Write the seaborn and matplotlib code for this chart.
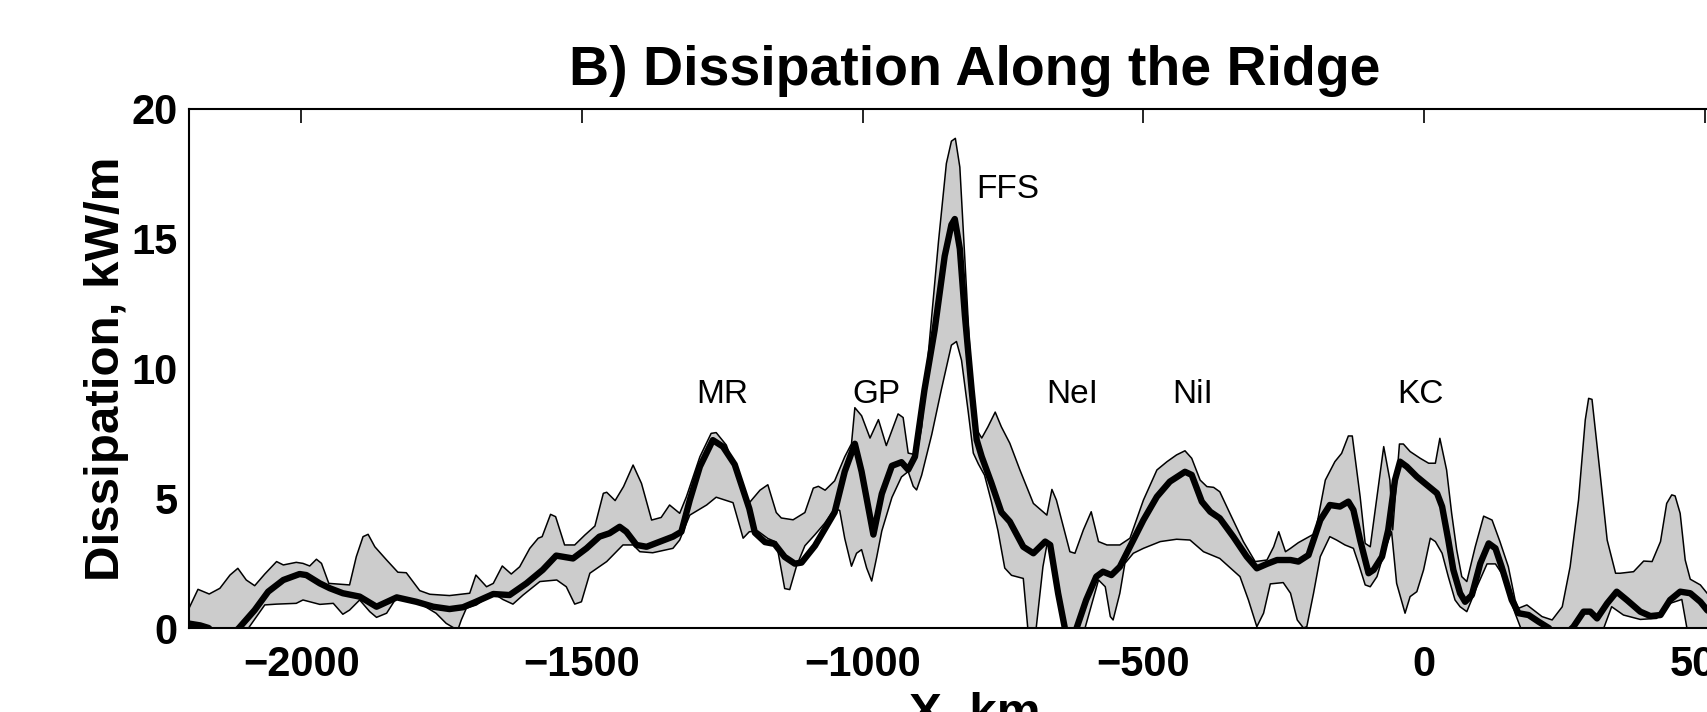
import numpy as np
import matplotlib
matplotlib.use("Agg")
import matplotlib.pyplot as plt
import seaborn as sns

# upper edge of the shaded band (x in km, dissipation in kW/m)
upper_x = [-2200, -2184, -2164, -2145, -2127, -2113, -2098, -2083, -2065, -2044,
           -2032, -2009, -1997, -1985, -1973, -1964, -1951, -1914, -1902, -1890,
           -1881, -1869, -1848, -1828, -1813, -1789, -1771, -1736, -1712, -1700,
           -1689, -1670, -1658, -1642, -1626, -1611, -1593, -1578, -1571, -1556,
           -1547, -1531, -1513, -1495, -1477, -1462, -1456, -1441, -1426, -1409,
           -1394, -1376, -1359, -1344, -1326, -1314, -1290, -1270, -1261, -1243,
           -1220, -1203, -1183, -1169, -1154, -1145, -1124, -1103, -1088, -1079,
           -1067, -1050, -1032, -1020, -1014, -1002, -987, -972, -958, -937,
           -928, -919, -904, -895, -877, -865, -851, -842, -835, -827,
           -818, -809, -800, -788, -777, -764, -753, -738, -720, -696,
           -672, -663, -655, -631, -622, -607, -593, -580, -565, -542,
           -524, -500, -476, -458, -441, -426, -414, -399, -387, -375,
           -364, -346, -322, -301, -280, -268, -259, -247, -238, -224,
           -194, -176, -159, -147, -135, -128, -114, -105, -96, -72,
           -61, -56, -44, -37, -25, -7, 8, 20, 28, 40,
           49, 58, 67, 76, 91, 106, 121, 135, 150, 162,
           168, 183, 195, 210, 228, 246, 260, 275, 287, 293,
           299, 314, 326, 341, 349, 373, 391, 406, 421, 432,
           441, 447, 456, 465, 474, 492, 504, 515]
upper_y = [0.76, 1.49, 1.31, 1.53, 2.04, 2.30, 1.85, 1.63, 2.08, 2.56,
           2.43, 2.53, 2.49, 2.39, 2.65, 2.49, 1.72, 1.66, 2.75, 3.52,
           3.61, 3.13, 2.62, 2.15, 2.13, 1.44, 1.30, 1.25, 1.31, 1.34,
           2.04, 1.59, 1.72, 2.39, 2.08, 2.36, 3.07, 3.46, 3.52, 4.38,
           4.29, 3.20, 3.20, 3.58, 3.93, 5.19, 5.23, 4.91, 5.45, 6.28,
           5.57, 4.16, 4.26, 4.74, 4.42, 5.06, 6.60, 7.50, 7.53, 7.05,
           5.70, 4.80, 5.31, 5.52, 4.45, 4.24, 4.17, 4.45, 5.39, 5.46,
           5.31, 5.67, 6.60, 7.10, 8.49, 8.18, 7.32, 8.03, 7.03, 8.25,
           8.11, 6.74, 6.67, 7.75, 12.04, 14.90, 17.90, 18.76, 18.87, 17.76,
           14.20, 10.60, 7.75, 7.32, 7.75, 8.32, 7.75, 7.12, 6.09, 4.80,
           4.35, 5.34, 4.93, 2.94, 2.88, 3.78, 4.48, 3.33, 3.20, 3.20,
           3.46, 4.93, 6.09, 6.41, 6.67, 6.83, 6.54, 5.70, 5.45, 5.42,
           5.25, 4.42, 3.33, 2.56, 2.62, 3.13, 3.71, 2.94, 3.07, 3.29,
           3.65, 5.70, 6.41, 6.73, 7.40, 7.40, 5.06, 3.26, 3.13, 6.99,
           5.70, 3.78, 7.09, 7.09, 6.80, 6.54, 6.35, 6.35, 7.31, 6.09,
           4.42, 3.01, 1.98, 1.79, 3.13, 4.31, 4.16, 3.33, 2.36, 1.08,
           0.76, 0.89, 0.69, 0.44, 0.31, 0.82, 2.36, 4.93, 8.02, 8.85,
           8.81, 5.83, 3.39, 2.11, 2.11, 2.17, 2.58, 2.56, 3.33, 4.80,
           5.13, 5.09, 4.42, 2.62, 1.88, 1.66, 1.34, 1.25]

# lower edge of the shaded band
lower_x = [-2200, -2094, -2065, -2044, -2009, -1997, -1967, -1943, -1926, -1914,
           -1896, -1878, -1866, -1848, -1830, -1789, -1760, -1742, -1728, -1720,
           -1715, -1706, -1688, -1658, -1641, -1623, -1605, -1575, -1545, -1528,
           -1513, -1501, -1486, -1456, -1427, -1409, -1397, -1374, -1338, -1326,
           -1308, -1278, -1261, -1231, -1213, -1202, -1187, -1169, -1154, -1139,
           -1130, -1118, -1103, -1085, -1068, -1050, -1041, -1032, -1020, -1011,
           -1002, -993, -984, -975, -966, -948, -931, -919, -910, -904,
           -895, -877, -860, -842, -833, -824, -812, -803, -794, -783,
           -771, -759, -747, -735, -714, -706, -691, -679, -672, -663,
           -649, -640, -604, -580, -568, -559, -554, -542, -533, -518,
           -500, -470, -441, -417, -393, -364, -328, -313, -298, -286,
           -274, -251, -238, -226, -215, -209, -197, -185, -168, -156,
           -141, -126, -117, -105, -96, -84, -70, -58, -49, -34,
           -25, -13, -1, 11, 20, 32, 43, 55, 64, 76,
           94, 112, 127, 138, 150, 162, 172, 320, 334, 355,
           385, 414, 438, 459, 468, 515]
lower_y = [0.00, 0.00, 0.89, 0.92, 0.95, 1.08, 0.91, 0.95, 0.53, 0.69,
           1.08, 0.63, 0.41, 0.57, 1.18, 0.95, 0.57, 0.18, 0.00, 0.00,
           0.31, 0.76, 0.89, 1.34, 1.10, 0.92, 1.27, 1.79, 1.85, 1.59,
           0.92, 1.01, 2.11, 2.56, 3.20, 3.20, 2.94, 2.90, 3.07, 3.39,
           4.35, 4.74, 5.04, 4.83, 3.46, 3.71, 3.74, 3.45, 3.31, 1.52,
           1.48, 2.38, 3.17, 3.60, 4.03, 4.60, 4.53, 3.45, 2.38, 2.88,
           3.02, 2.31, 1.81, 2.74, 3.74, 5.03, 5.82, 6.03, 5.46, 5.32,
           5.89, 7.46, 9.18, 10.90, 11.04, 10.32, 8.32, 6.74, 6.32, 5.89,
           4.89, 3.74, 2.31, 2.03, 1.91, 0.00, 0.00, 2.36, 3.20, 3.13,
           1.34, 0.00, 0.00, 1.85, 1.59, 0.44, 0.31, 1.34, 2.49, 2.88,
           3.07, 3.33, 3.42, 3.39, 2.94, 2.68, 1.98, 1.08, 0.05, 0.57,
           1.70, 1.75, 1.34, 0.31, 0.00, 0.05, 1.34, 2.75, 3.52, 3.39,
           3.20, 3.07, 2.49, 1.66, 1.59, 1.98, 3.01, 3.71, 1.72, 0.57,
           1.21, 1.40, 2.24, 3.46, 3.33, 2.88, 1.98, 1.08, 0.82, 0.63,
           1.59, 2.47, 2.47, 2.11, 1.34, 0.57, 0.00, 0.00, 0.82, 0.50,
           0.33, 0.37, 0.95, 1.10, 0.00, 0.00]

# mean dissipation (thick line)
mean_x = [-2200, -2180, -2165, -2140, -2120, -2111, -2083, -2059, -2032, -2003,
          -1991, -1967, -1949, -1926, -1896, -1866, -1830, -1795, -1765, -1736,
          -1712, -1689, -1658, -1629, -1599, -1570, -1546, -1516, -1492, -1469,
          -1451, -1433, -1421, -1403, -1385, -1361, -1338, -1323, -1308, -1290,
          -1267, -1249, -1228, -1202, -1192, -1174, -1157, -1139, -1121, -1109,
          -1085, -1050, -1032, -1014, -1002, -981, -966, -948, -931, -919,
          -907, -890, -872, -854, -842, -836, -827, -818, -806, -797,
          -788, -771, -753, -738, -714, -696, -675, -666, -652, -640,
          -630, -619, -602, -584, -572, -557, -542, -524, -500, -476,
          -453, -426, -414, -396, -381, -364, -340, -316, -298, -280,
          -262, -238, -224, -206, -185, -168, -150, -135, -126, -114,
          -99, -90, -75, -64, -52, -43, -31, -13, 5, 23,
          32, 43, 52, 64, 73, 85, 100, 115, 127, 138,
          156, 168, 186, 204, 222, 240, 266, 284, 296, 308,
          326, 343, 361, 385, 403, 421, 438, 456, 474, 492,
          504, 515]
mean_y = [0.17, 0.10, 0.00, -0.60, -0.20, 0.00, 0.69, 1.40, 1.85, 2.08,
          2.04, 1.72, 1.53, 1.34, 1.21, 0.82, 1.18, 1.01, 0.82, 0.73,
          0.80, 1.01, 1.31, 1.27, 1.72, 2.24, 2.79, 2.68, 3.07, 3.52,
          3.65, 3.90, 3.71, 3.20, 3.13, 3.33, 3.52, 3.71, 4.93, 6.22,
          7.24, 6.99, 6.30, 4.60, 3.67, 3.31, 3.24, 2.74, 2.48, 2.52,
          3.17, 4.46, 6.03, 7.10, 6.03, 3.60, 5.17, 6.25, 6.39, 6.10,
          6.60, 9.18, 11.47, 14.33, 15.54, 15.76, 14.61, 12.04, 9.18, 7.25,
          6.60, 5.60, 4.46, 4.10, 3.13, 2.88, 3.33, 3.20, 1.34, 0.00,
          -1.00, 0.00, 1.08, 1.98, 2.17, 2.04, 2.36, 3.13, 4.16, 5.06,
          5.64, 6.02, 5.90, 4.87, 4.48, 4.23, 3.52, 2.75, 2.30, 2.47,
          2.62, 2.62, 2.56, 2.81, 4.16, 4.74, 4.68, 4.87, 4.55, 3.39,
          2.11, 2.24, 2.75, 3.78, 5.70, 6.41, 6.22, 5.83, 5.51, 5.19,
          4.68, 3.39, 2.24, 1.34, 1.01, 1.27, 2.49, 3.26, 3.07, 2.36,
          1.08, 0.57, 0.50, 0.24, 0.00, -0.50, 0.05, 0.63, 0.63, 0.37,
          0.95, 1.40, 1.08, 0.63, 0.46, 0.50, 1.08, 1.40, 1.34, 1.01,
          0.69, 0.50]

# feature labels along the ridge
site_names = ["MR", "GP", "FFS", "NeI", "NiI", "KC"]
site_x = [-1251, -975, -797, -627, -413, -7]
site_y = [9.0, 9.0, 16.9, 9.0, 9.0, 9.0]

x_ticks = [-2000, -1500, -1000, -500, 0, 500]
y_ticks = [0, 5, 10, 15, 20]

sns.set_style("white")
plt.rcParams["font.family"] = ["Liberation Sans", "DejaVu Sans"]
plt.rcParams["axes.unicode_minus"] = True
plt.rcParams["text.color"] = "black"
plt.rcParams["axes.labelcolor"] = "black"
plt.rcParams["xtick.color"] = "black"
plt.rcParams["ytick.color"] = "black"

W, H = 1707, 712
fig = plt.figure(figsize=(W / 100, H / 100), dpi=100)
# axes run past the right edge of the figure (the original is cropped there)
ax = fig.add_axes([189 / W, 84 / H, (1761 - 189) / W, 519 / H])

# shaded band between the lower and upper estimates
band_x = np.concatenate([upper_x, lower_x[::-1]])
band_y = np.concatenate([upper_y, lower_y[::-1]])
ax.fill(band_x, band_y, color="#cccccc", lw=0, zorder=1)

sns.lineplot(x=np.array(upper_x), y=np.array(upper_y), ax=ax, color="black",
             lw=1.1, sort=False, estimator=None, zorder=2)
sns.lineplot(x=np.array(lower_x), y=np.array(lower_y), ax=ax, color="black",
             lw=1.1, sort=False, estimator=None, zorder=2)
sns.lineplot(x=np.array(mean_x), y=np.array(mean_y), ax=ax, color="black",
             lw=4.6, sort=False, estimator=None, zorder=3)

for name, sx, sy in zip(site_names, site_x, site_y):
    ha = "left" if name == "FFS" else "center"
    ax.text(sx, sy, name, ha=ha, va="center", fontsize=24, color="black")

ax.set_xlim(-2200, 600)
ax.set_ylim(0, 20)
ax.set_xticks(x_ticks)
ax.set_yticks(y_ticks)
ax.tick_params(axis="both", direction="in", length=10, width=1.2,
               top=True, right=True, labelsize=30, colors="black")
ax.tick_params(axis="x", pad=12)
ax.tick_params(axis="y", pad=8)
for lab in ax.get_xticklabels() + ax.get_yticklabels():
    lab.set_fontweight("bold")
for sp in ax.spines.values():
    sp.set_linewidth(1.5)
    sp.set_color("black")

ax.set_title("B) Dissipation Along the Ridge", fontsize=40, fontweight="bold",
             pad=17, color="black")
ax.set_ylabel("Dissipation, kW/m", fontsize=35.5, fontweight="bold", color="black")
ax.set_xlabel("X, km", fontsize=35.5, fontweight="bold", color="black")
ax.yaxis.set_label_coords(-0.038, 0.5)
ax.xaxis.set_label_coords(0.5, -0.123)

fig.savefig("out.png", dpi=100)
